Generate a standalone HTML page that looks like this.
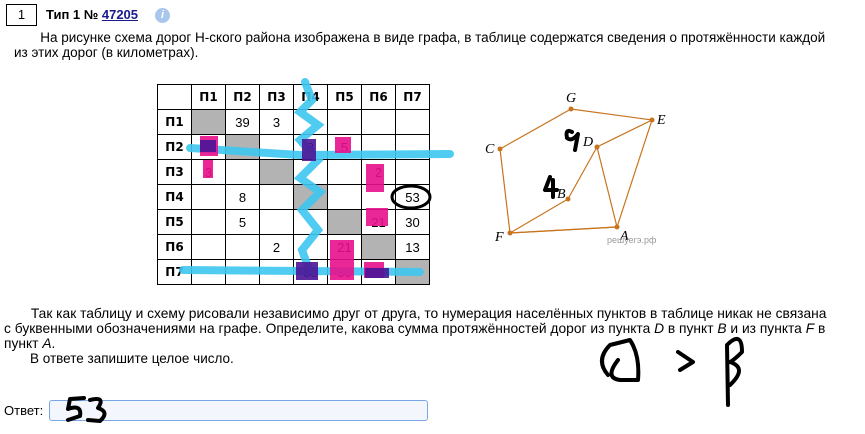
<!DOCTYPE html>
<html><head><meta charset="utf-8">
<style>
body{margin:0;width:865px;height:434px;background:#fff;font-family:"Liberation Sans","DejaVu Sans",sans-serif;color:#000;position:relative;overflow:hidden}
.abs{position:absolute}
p{margin:0;font-size:13.5px;line-height:15px;white-space:nowrap}
table{border-collapse:collapse;position:absolute;left:157px;top:84px}
td{border:1px solid #000;width:33px;height:24px;padding:0;text-align:center;font-size:13px}
td.h{font-weight:bold;font-family:"DejaVu Sans",sans-serif;font-size:12px}
td.g{background:#b3b3b3}
svg{z-index:5}
</style></head><body>
<div class="abs" style="left:6px;top:4px;width:29px;height:20px;border:1px solid #000;font-size:13px;text-align:center;line-height:20px">1</div>
<div class="abs" style="left:46px;top:7px;font-size:13px;font-weight:bold">Тип 1 № <a style="color:#1a1a8c;text-decoration:underline">47205</a></div>
<div class="abs" style="left:155px;top:8px;width:15px;height:15px;border-radius:50%;background:#a9c6ec;color:#fff;font-size:11px;font-style:italic;font-weight:bold;text-align:center;line-height:15px">i</div>
<p class="abs" style="left:14px;top:30px">&nbsp;&nbsp;&nbsp;&nbsp;&nbsp;&nbsp;&nbsp;На рисунке схема дорог Н-ского района изображена в виде графа, в таблице содержатся сведения о протяжённости каждой<br>из этих дорог (в километрах).</p>

<table>
<tr><td class="h"></td><td class="h">П1</td><td class="h">П2</td><td class="h">П3</td><td class="h">П4</td><td class="h">П5</td><td class="h">П6</td><td class="h">П7</td></tr>
<tr><td class="h">П1</td><td class="g"></td><td>39</td><td>3</td><td></td><td></td><td></td><td></td></tr>
<tr><td class="h">П2</td><td>39</td><td class="g"></td><td></td><td>8</td><td>5</td><td></td><td></td></tr>
<tr><td class="h">П3</td><td>3</td><td></td><td class="g"></td><td></td><td></td><td>2</td><td></td></tr>
<tr><td class="h">П4</td><td></td><td>8</td><td></td><td class="g"></td><td></td><td></td><td>53</td></tr>
<tr><td class="h">П5</td><td></td><td>5</td><td></td><td></td><td class="g"></td><td>21</td><td>30</td></tr>
<tr><td class="h">П6</td><td></td><td></td><td>2</td><td></td><td>21</td><td class="g"></td><td>13</td></tr>
<tr><td class="h">П7</td><td></td><td></td><td></td><td>53</td><td>30</td><td>13</td><td class="g"></td></tr>
</table>

<p class="abs" style="left:4px;top:306px;font-size:13.8px">&nbsp;&nbsp;&nbsp;&nbsp;&nbsp;&nbsp;&nbsp;Так как таблицу и схему рисовали независимо друг от друга, то нумерация населённых пунктов в таблице никак не связана<br>с буквенными обозначениями на графе. Определите, какова сумма протяжённостей дорог из пункта <i>D</i> в пункт <i>B</i> и из пункта <i>F</i> в<br>пункт <i>A</i>.</p>
<p class="abs" style="left:30px;top:351px">В ответе запишите целое число.</p>
<div class="abs" style="left:4px;top:403px;font-size:13px">Ответ:</div>
<div class="abs" style="left:49px;top:400px;width:377px;height:19px;border:1px solid #7aa7e8;border-radius:3px;background:#f3f7fd"></div>

<svg class="abs" style="left:0;top:0" width="865" height="434">
<g fill="none" stroke="#3ec6f0" stroke-width="8" stroke-linecap="round" opacity="0.9">
<path d="M190 148 L300 155 L450 154"/>
<path d="M305 82 L312 100 L300 112 L318 125 L300 140 L318 160 L300 178 L320 192 L302 210 L318 230 L302 250 L310 272"/>
<path d="M183 270 L420 272"/>
</g>
<g fill="#e8108c" opacity="0.9">
<rect x="200" y="136" width="18" height="20"/><rect x="203" y="160" width="10" height="18"/>
<rect x="335" y="137" width="16" height="16"/><rect x="366" y="164" width="18" height="28"/>
<rect x="366" y="208" width="22" height="18"/><rect x="330" y="240" width="24" height="40"/>
<rect x="364" y="262" width="20" height="16"/>
</g>
<g fill="#4b1597" opacity="0.9">
<rect x="200" y="140" width="16" height="12"/><rect x="302" y="139" width="14" height="22"/>
<rect x="296" y="262" width="22" height="18"/><rect x="365" y="268" width="24" height="10"/>
</g>
<ellipse cx="411" cy="197" rx="19" ry="11" fill="none" stroke="#000" stroke-width="3"/>
<g stroke="#c8741e" stroke-width="1.2" fill="none">
<polyline points="500,149 571,109 652,120 617,227 510,233 500,149"/>
<polyline points="652,120 597,147 617,227"/>
<polyline points="597,147 568,199 510,233 617,227"/>
</g>
<g fill="#c8741e">
<circle cx="571" cy="109" r="2.5"/><circle cx="652" cy="120" r="2.5"/><circle cx="500" cy="149" r="2.5"/><circle cx="597" cy="147" r="2.5"/><circle cx="568" cy="199" r="2.5"/><circle cx="510" cy="233" r="2.5"/><circle cx="617" cy="227" r="2.5"/>
</g>
<g font-family="Liberation Serif,serif" font-style="italic" font-size="14">
<text x="566" y="102">G</text><text x="657" y="124">E</text><text x="485" y="153">C</text><text x="583" y="146">D</text><text x="557" y="198">B</text><text x="495" y="241">F</text><text x="620" y="240">A</text>
</g>
<text x="607" y="243" font-size="9" fill="#999">решуегэ.рф</text>
<g fill="none" stroke="#000" stroke-width="4" stroke-linecap="round" stroke-linejoin="round">
<path d="M572 132 Q565 128 567 138 Q572 142 578 134 L575 150"/>
<path d="M550 177 L545 190 L557 190 M553 180 L553 197"/>
<path d="M608 375 Q595 360 610 345 L630 340 Q640 355 638 380 L620 380 Q604 378 618 360"/>
<path d="M678 352 L693 362 L680 370"/>
<path d="M728 405 L727 345 Q742 330 742 352 Q734 360 730 362 Q748 368 730 385"/>
<path d="M84 398 L70 399 L68 409 Q82 404 80 416 L68 420"/>
<path d="M90 400 Q106 396 98 408 Q110 412 100 421 L88 420"/>
</g>
</svg>
</body></html>
